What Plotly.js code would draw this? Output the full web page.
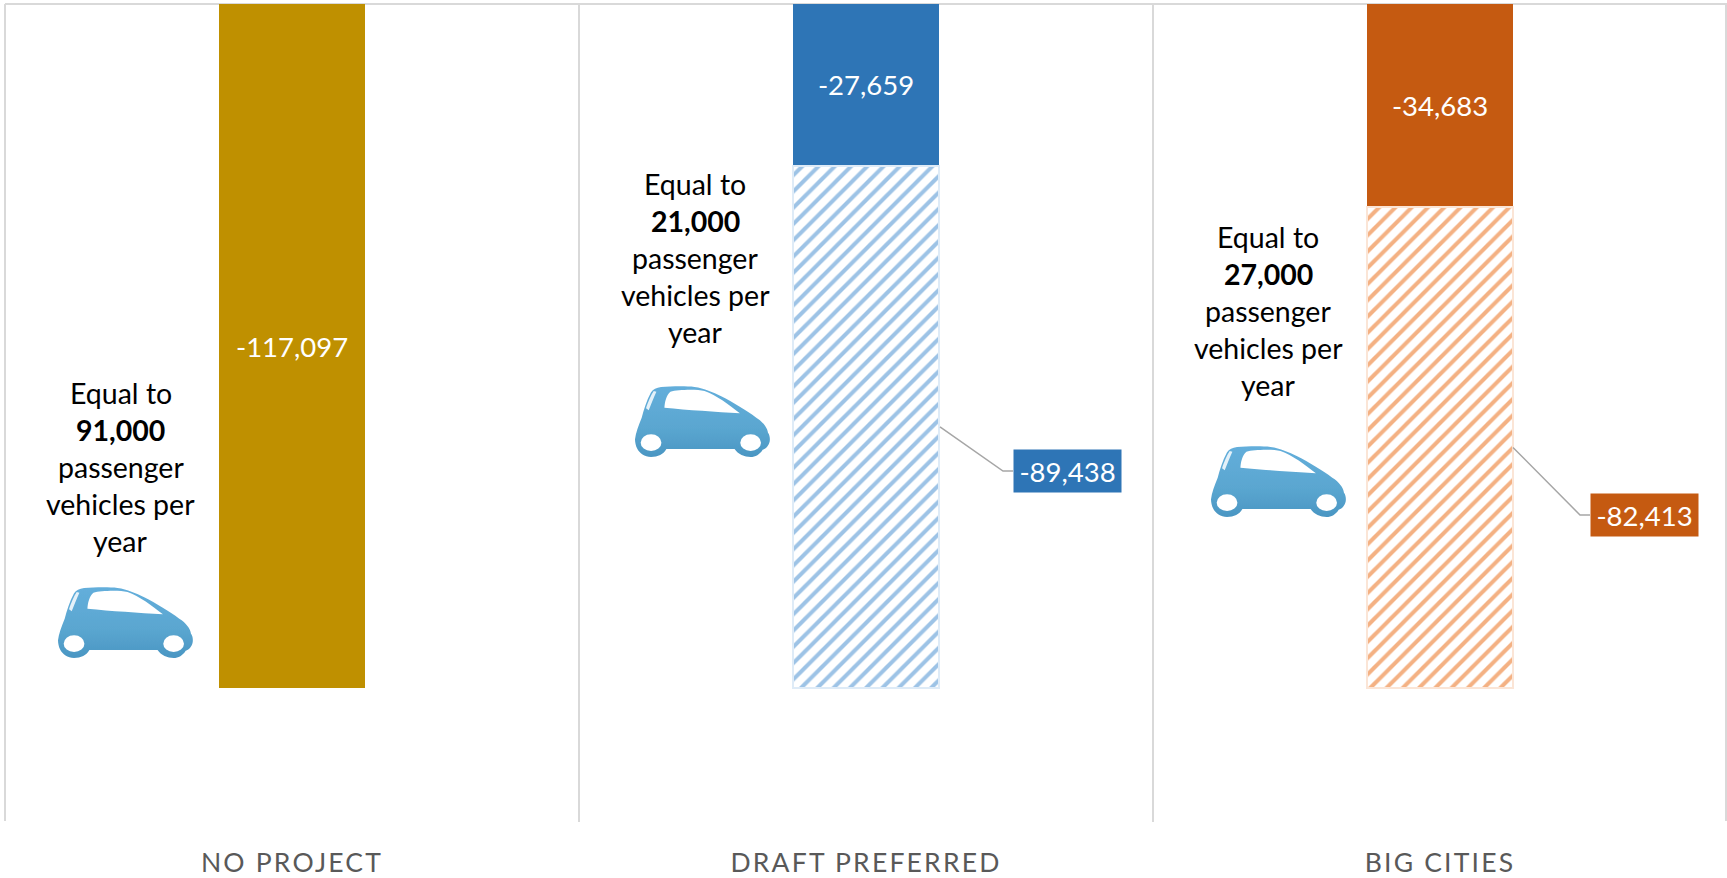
<!DOCTYPE html>
<html><head><meta charset="utf-8">
<script src="https://cdn.plot.ly/plotly-3.0.1.min.js"></script>
<style>
html,body{margin:0;padding:0;background:#fff;overflow:hidden}
#chart{width:1727px;height:878px}
.xtick text{letter-spacing:2.2px}
</style></head><body><div id="chart"></div>
<script>
const categories = ["NO PROJECT", "DRAFT PREFERRED", "BIG CITIES"];
const solidValues = [-117097, -27659, -34683];
const hatchedValues = [null, -89438, -82413];
const vehicleCounts = ["91,000", "21,000", "27,000"];
const solidColors = ["#BF9000", "#2E75B6", "#C55A11"];
const stripeColors = ["#ffffff", "#9DC3E6", "#F4B183"];
const edgeColors = ["#ffffff", "#DEEBF7", "#FBE5D6"];

const W = 1727, H = 878, L = 5, R = 1727, T = 4, B = 822, YMIN = -140000;
const px = x => (x - L) / (R - L);
const py = y => 1 - (y - T) / (B - T);
const yVal = y => (y - T) / (B - T) * YMIN;
const FONT = "Lato, Carlito, sans-serif";

const noteCentres = [120.5, 695, 1268];
const noteFirstLine = [393, 184, 237];
const carBoxes = [[56, 586], [633, 385], [1209, 445]];
const calloutBoxes = [null, [1013, 449], [1590, 493]];
const elbows = [null, [1003, 471], [1580, 515]];
const barRight = [null, 940, 1513];

const carSvg = `<svg xmlns="http://www.w3.org/2000/svg" viewBox="36 42 416 222" width="416" height="222">
<defs><linearGradient id="g" x1="0" y1="0" x2="0" y2="1"><stop offset="0" stop-color="#63AEDB"/><stop offset="0.6" stop-color="#5AA6D0"/><stop offset="1" stop-color="#4A96C3"/></linearGradient>
<filter id="b" x="-5%" y="-5%" width="110%" height="110%"><feGaussianBlur stdDeviation="2"/></filter></defs>
<g filter="url(#b)">
<path fill="url(#g)" d="M42 205 C44 185 52 165 62 140 C68 118 76 90 90 64 C96 54 106 50 120 48 C150 46 195 45 220 48 C250 52 275 64 300 76 C335 94 375 118 405 140 C425 152 438 170 440 185 C446 192 447 208 444 215 C440 228 430 234 424 236 C416 250 402 258 388 258 C370 258 350 250 340 234 L136 234 C128 250 110 258 90 258 C70 258 56 248 48 232 C44 224 42 214 42 205 Z"/>
<path fill="#fff" d="M130 110 C131 95 135 72 148 62 C170 56 225 54 250 60 C285 72 325 102 356 127 C285 122 200 117 130 110 Z"/>
<path fill="#E4F1F9" d="M75 112 C80 95 90 72 98 60 L106 62 C98 80 90 100 83 118 Z"/>
<ellipse cx="90" cy="215" rx="31" ry="25" fill="#fff"/><ellipse cx="388" cy="215" rx="31" ry="25" fill="#fff"/>
</g></svg>`;
const carUri = "data:image/svg+xml;base64," + btoa(carSvg);

const annotations = [], shapes = [], images = [];
const LINE = 37;
[5, 1726].forEach(edge => shapes.push({type: "line", xref: "paper", yref: "paper",
  x0: px(edge), x1: px(edge), y0: py(821), y1: 1, layer: "below",
  line: {color: "#D9D9D9", width: 2}}));
categories.forEach((c, i) => {
  const lines = ["Equal to", "<b>" + vehicleCounts[i] + "</b>", "passenger", "vehicles per", "year"];
  lines.forEach((t, k) => annotations.push({
    xref: "paper", yref: "paper", x: px(noteCentres[i]), y: py(noteFirstLine[i] + k * LINE),
    text: t, showarrow: false, xanchor: "center", yanchor: "middle",
    font: {family: FONT, size: 28.5, color: "#000000"}
  }));
  images.push({
    source: carUri, xref: "paper", yref: "paper",
    x: px(carBoxes[i][0]), y: py(carBoxes[i][1]),
    sizex: 139 / (R - L), sizey: 74 / (B - T),
    xanchor: "left", yanchor: "top", sizing: "stretch", layer: "above"
  });
  if (hatchedValues[i] !== null) {
    const mid = solidValues[i] + hatchedValues[i] / 2;
    const e = elbows[i], b = calloutBoxes[i];
    shapes.push({type: "path", xref: "paper", yref: "y", layer: "above",
      path: `M ${px(barRight[i])} ${mid} L ${px(e[0])} ${yVal(e[1])} L ${px(b[0])} ${yVal(e[1])}`,
      line: {color: "#A6A6A6", width: 1.5}});
    annotations.push({
      xref: "paper", yref: "paper", x: px(b[0] + 54.5), y: py(b[1] + 22),
      text: hatchedValues[i].toLocaleString("en-US"), showarrow: false,
      xanchor: "center", yanchor: "middle", width: 107, height: 42, borderpad: 0,
      bgcolor: solidColors[i], font: {family: FONT, size: 27.5, color: "#ffffff"}
    });
  }
});

const data = [
  {type: "bar", name: "Solid", x: categories, y: solidValues,
   marker: {color: solidColors, line: {width: 0}},
   texttemplate: "%{y:,}", textposition: "inside", insidetextanchor: "middle",
   textangle: 0, constraintext: "none",
   insidetextfont: {family: FONT, size: 27.5, color: "#ffffff"}, hoverinfo: "x+y"},
  {type: "bar", name: "Hatched", x: categories, y: hatchedValues,
   marker: {color: "#ffffff", line: {color: edgeColors, width: 2},
     pattern: {shape: "/", fgcolor: stripeColors, bgcolor: "#ffffff", size: 11.5, solidity: 0.35, fillmode: "replace"}},
   textposition: "none", hoverinfo: "x+y"}
];

const layout = {
  width: W, height: H, showlegend: false,
  paper_bgcolor: "#ffffff", plot_bgcolor: "#ffffff",
  margin: {l: L, r: W - R, t: T, b: H - B, pad: 0},
  barmode: "stack", bargap: 0.744,
  font: {family: FONT},
  xaxis: {type: "category", tickson: "boundaries", showgrid: true, gridcolor: "#D9D9D9", gridwidth: 2,
    ticks: "", showline: false, zeroline: false, ticklabelstandoff: 22, automargin: false,
    tickfont: {family: FONT, size: 26.5, color: "#595959"}},
  yaxis: {range: [YMIN, 0], showticklabels: false, showgrid: false, ticks: "", automargin: false,
    zeroline: true, zerolinecolor: "#D9D9D9", zerolinewidth: 2, showline: false},
  annotations, shapes, images
};
Plotly.newPlot("chart", data, layout, {displayModeBar: false, staticPlot: true});
</script></body></html>
